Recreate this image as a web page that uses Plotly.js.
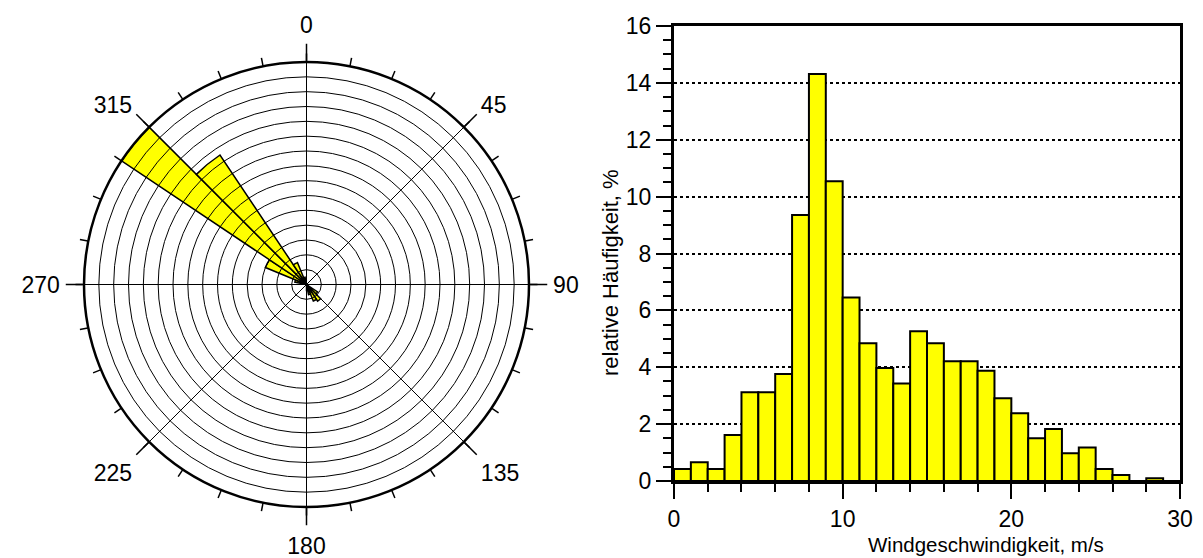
<!DOCTYPE html>
<html>
<head>
<meta charset="utf-8">
<script src="https://cdn.plot.ly/plotly-3.0.1.min.js"></script>
<style>
  html, body { margin: 0; padding: 0; background: #ffffff; }
  #chart { width: 1203px; height: 558px; }
</style>
</head>
<body>
<div id="chart"></div>
<script>
// Wind rose: direction sectors of 11.25 degrees (sector centres), frequency in %
const sectorCentres = [129.375, 140.625, 151.875, 163.125, 174.375,
                       286.875, 298.125, 309.375, 320.625, 331.875, 343.125];
const sectorFreq    = [0.9, 1.35, 1.2, 0.7, 0.4,
                       0.8, 3.0, 15.0, 10.5, 1.6, 0.5];

// Wind speed histogram: 1 m/s bins (lower bin edge) and relative frequency in %
const speedBinStart = [0, 1, 2, 3, 4, 5, 6, 7, 8, 9,
                       10, 11, 12, 13, 14, 15, 16, 17, 18, 19,
                       20, 21, 22, 23, 24, 25, 26, 27, 28, 29];
const speedFreq     = [0.42, 0.66, 0.42, 1.62, 3.12, 3.12, 3.76, 9.35, 14.31, 10.54,
                       6.45, 4.84, 3.97, 3.43, 5.27, 4.84, 4.21, 4.21, 3.88, 2.91,
                       2.38, 1.50, 1.83, 0.98, 1.18, 0.42, 0.21, 0, 0.10, 0];

// Compass labels on the wind rose
const compassVals = [0, 45, 90, 135, 180, 225, 270, 315];
const compassText = ['0', '45', '90', '135', '180', '225', '270', '315'];

// Histogram axis titles
const speedTitle = 'Windgeschwindigkeit, m/s';
const freqTitle  = 'relative Häufigkeit, %';

const W = 1203, H = 558;
const FONT = 'Liberation Sans, Arial, sans-serif';
const BLACK = '#000000';

// Wind rose placement (pixels)
const cx = 306.5, cy = 284.5, R = 222.5;
const roseDomain = {
  x: [(cx - R) / W, (cx + R) / W],
  y: [(H - cy - R) / H, (H - cy + R) / H]
};

// Histogram plot area (pixels)
const hx0 = 674, hx1 = 1180, hyTop = 26, hyBot = 481;

const traces = [
  {
    type: 'barpolar',
    subplot: 'polar',
    r: sectorFreq,
    theta: sectorCentres,
    width: sectorCentres.map(() => 11.25),
    marker: { color: '#ffff00', line: { color: BLACK, width: 1.5 } },
    hoverinfo: 'skip'
  },
  // empty traces so the overlay subplots (grid, ticks, labels) are drawn
  { type: 'scatterpolar', subplot: 'polar2', r: [], theta: [], hoverinfo: 'skip' },
  { type: 'scatterpolar', subplot: 'polar3', r: [], theta: [], hoverinfo: 'skip' },
  { type: 'scatterpolar', subplot: 'polar4', r: [], theta: [], hoverinfo: 'skip' },
  {
    type: 'bar',
    xaxis: 'x',
    yaxis: 'y',
    x: speedBinStart,
    y: speedFreq,
    offset: 0,
    width: 1,
    marker: { color: '#ffff00', line: { color: BLACK, width: 2 } },
    hoverinfo: 'skip'
  }
];

const hiddenRadial = { visible: false, range: [0, 15] };
const clockwise = { direction: 'clockwise', rotation: 90 };

const layout = {
  width: W,
  height: H,
  margin: { l: 0, r: 0, t: 0, b: 0 },
  paper_bgcolor: '#ffffff',
  plot_bgcolor: '#ffffff',
  showlegend: false,
  font: { family: FONT, size: 20, color: BLACK },

  // data layer of the wind rose
  polar: {
    domain: roseDomain,
    bgcolor: '#ffffff',
    radialaxis: hiddenRadial,
    angularaxis: Object.assign({}, clockwise, {
      showgrid: false, showline: false, ticks: '', showticklabels: false
    })
  },
  // rings, spokes, outer circle and long ticks drawn over the sectors
  polar2: {
    domain: roseDomain,
    bgcolor: 'rgba(0,0,0,0)',
    radialaxis: {
      range: [0, 15], tick0: 0, dtick: 1,
      showgrid: true, gridcolor: BLACK, gridwidth: 1,
      showline: false, ticks: '', showticklabels: false
    },
    angularaxis: Object.assign({}, clockwise, {
      tickmode: 'array', tickvals: compassVals,
      showticklabels: false,
      showgrid: true, gridcolor: BLACK, gridwidth: 1,
      showline: true, linecolor: BLACK, linewidth: 2.5,
      ticks: 'outside', ticklen: 17, tickwidth: 1.5, tickcolor: BLACK
    })
  },
  // short ticks every 11.25 degrees
  polar3: {
    domain: roseDomain,
    bgcolor: 'rgba(0,0,0,0)',
    radialaxis: hiddenRadial,
    angularaxis: Object.assign({}, clockwise, {
      tickmode: 'linear', tick0: 0, dtick: 11.25,
      showgrid: false, showline: false, showticklabels: false,
      ticks: 'outside', ticklen: 8, tickwidth: 1.5, tickcolor: BLACK
    })
  },
  // compass labels, set a little further out than the long ticks
  polar4: {
    domain: roseDomain,
    bgcolor: 'rgba(0,0,0,0)',
    radialaxis: hiddenRadial,
    angularaxis: Object.assign({}, clockwise, {
      tickmode: 'array', tickvals: compassVals, ticktext: compassText,
      showgrid: false, showline: false,
      ticks: 'outside', ticklen: 19, tickcolor: 'rgba(0,0,0,0)',
      tickfont: { family: FONT, size: 23, color: BLACK }
    })
  },

  xaxis: {
    domain: [hx0 / W, hx1 / W],
    anchor: 'y',
    range: [0, 30],
    tickmode: 'linear', tick0: 0, dtick: 10,
    ticks: 'outside', ticklen: 15, tickwidth: 2, tickcolor: BLACK,
    minor: { tickmode: 'linear', tick0: 0, dtick: 2, ticks: 'outside', ticklen: 8, tickwidth: 2, tickcolor: BLACK, showgrid: false },
    showline: true, linecolor: BLACK, linewidth: 3, mirror: true,
    showgrid: false, zeroline: false, automargin: false,
    tickfont: { family: FONT, size: 23, color: BLACK }
  },
  yaxis: {
    domain: [(H - hyBot) / H, (H - hyTop) / H],
    anchor: 'x',
    range: [0, 16],
    tickmode: 'linear', tick0: 0, dtick: 2,
    ticks: 'outside', ticklen: 15, tickwidth: 2, tickcolor: BLACK,
    minor: { tickmode: 'linear', tick0: 0, dtick: 0.5, ticks: 'outside', ticklen: 8, tickwidth: 2, tickcolor: BLACK, showgrid: false },
    showline: true, linecolor: BLACK, linewidth: 3, mirror: true,
    showgrid: true, gridcolor: BLACK, gridwidth: 2, griddash: 'dot',
    zeroline: false, automargin: false,
    tickfont: { family: FONT, size: 23, color: BLACK }
  },

  // axis titles of the histogram
  annotations: [
    {
      text: speedTitle, xref: 'paper', yref: 'paper',
      x: 986 / W, y: 0, xanchor: 'center', yanchor: 'bottom',
      showarrow: false, font: { family: FONT, size: 20.5, color: BLACK }
    },
    {
      text: freqTitle, xref: 'paper', yref: 'paper', textangle: -90,
      x: 610 / W, y: (H - 273) / H, xanchor: 'center', yanchor: 'middle',
      showarrow: false, font: { family: FONT, size: 22, color: BLACK }
    }
  ]
};

Plotly.newPlot('chart', traces, layout, { staticPlot: true, displayModeBar: false });
</script>
</body>
</html>
